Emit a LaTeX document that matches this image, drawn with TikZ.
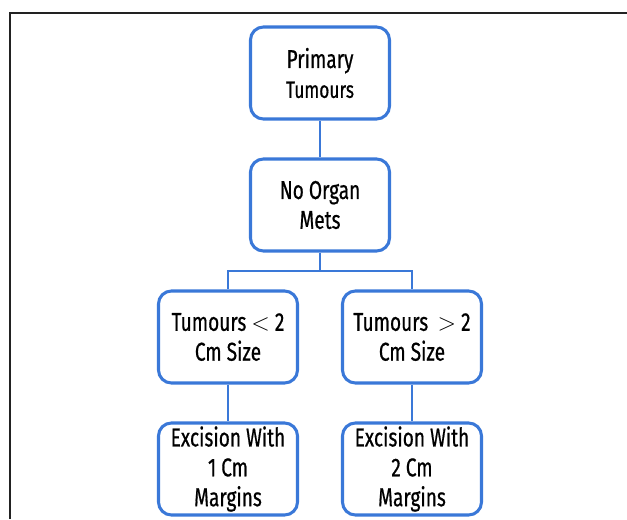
\documentclass[tikz,border=0pt]{standalone}
\usepackage{fontspec}
\setmainfont{Fira Sans}[FakeStretch=0.74, FakeBold=0.6]
\usetikzlibrary{positioning}
\usepackage{xcolor}
\definecolor{BoxBlue}{HTML}{3A78D8}
\definecolor{FrameGrey}{HTML}{222222}

\begin{document}
\begin{tikzpicture}[x=0.03cm, y=-0.03cm, font=\fontsize{22}{25.5}\selectfont]
    \tikzset{
        stage/.style={draw=BoxBlue, line width=2.6pt, rounded corners=11pt, fill=white,
            minimum width=4.17cm, minimum height=2.76cm, align=center, inner sep=0pt},
        link/.style={draw=BoxBlue, line width=2.4pt}
    }
    \useasboundingbox (0,0) rectangle (627,519);

    % outer frame (cut at right and bottom)
    \draw[FrameGrey, line width=0.9pt] (10,519) -- (10,13) -- (627,13);

    \node[stage] (primary) at (320,73) {Primary\\{\fontsize{20}{24}\selectfont Tumours}};
    \node[stage] (organ) at (320,205) {No Organ\\Mets};
    \node[stage] (small) at (228,337) {Tumours $<$ 2\\Cm Size};
    \node[stage] (large) at (412,337) {Tumours \,$>$ 2\\Cm Size};
    \node[stage] (cut1) at (228,469) {Excision With\\1 Cm\\Margins};
    \node[stage] (cut2) at (412,469) {Excision With\\2 Cm\\Margins};

    \coordinate (split) at (320,271);

    \draw[link] (primary) -- (organ);
    \draw[link] (organ) -- (split);
    \draw[link] (split) -| (small.north);
    \draw[link] (split) -| (large.north);
    \draw[link] (small) -- (cut1);
    \draw[link] (large) -- (cut2);
\end{tikzpicture}
\end{document}
